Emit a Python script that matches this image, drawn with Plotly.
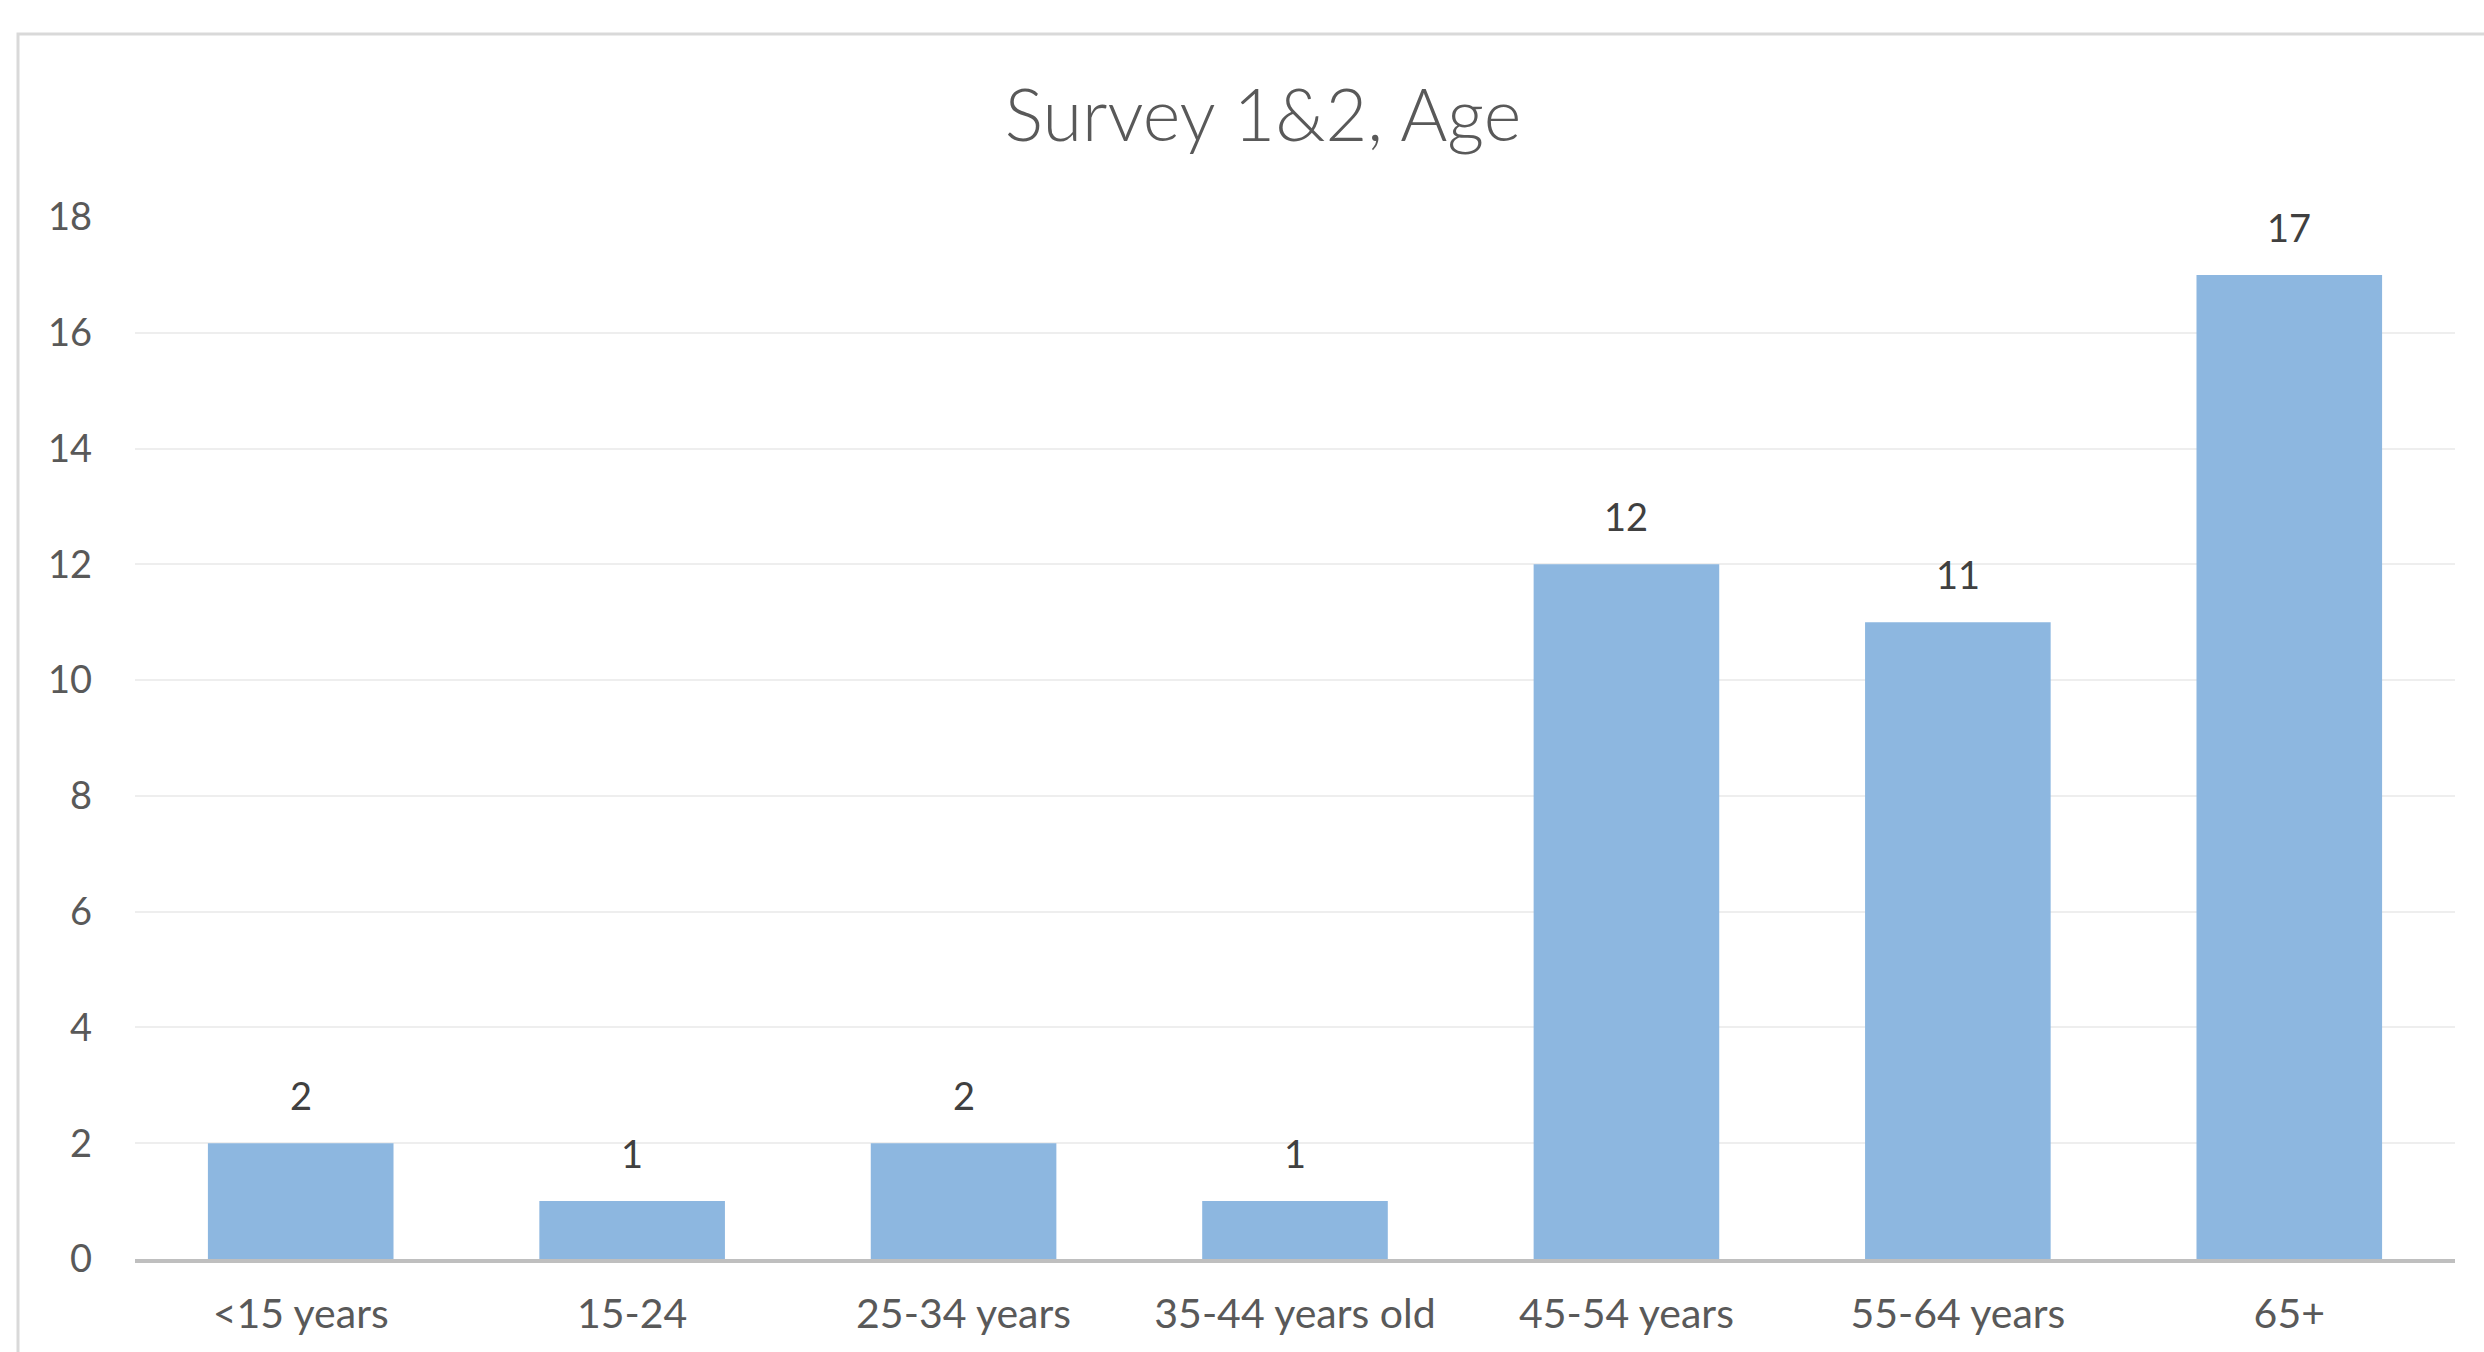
import plotly.graph_objects as go

categories = ["<15 years", "15-24", "25-34 years", "35-44 years old", "45-54 years", "55-64 years", "65+"]
counts = [2, 1, 2, 1, 12, 11, 17]
y_ticks = [0, 2, 4, 6, 8, 10, 12, 14, 16, 18]

W, H = 2484, 1352
L, R, T, B = 135, 29, 217, 93
pw = W - L - R
ph = H - T - B

FONT = "Lato"
BAR = "#8DB7E0"

fig = go.Figure()
fig.add_trace(go.Bar(
    x=categories, y=counts,
    marker=dict(color=BAR, line=dict(width=0)),
    hoverinfo="x+y",
))

for c, v in zip(categories, counts):
    fig.add_annotation(x=c, y=v, text=str(v), showarrow=False,
                       yanchor="middle", yshift=48,
                       font=dict(family=FONT, size=38, color="#404040"))

# outer chart frame (extends past the page on right/bottom)
fig.add_shape(type="rect", xref="paper", yref="paper",
              x0=(18 - L) / pw, x1=(W + 10 - L) / pw,
              y0=(ph + T - (H + 10)) / ph, y1=(ph + T - 34) / ph,
              line=dict(color="#D9D9D9", width=3), fillcolor="rgba(0,0,0,0)", layer="below")

fig.update_layout(
    width=W, height=H,
    margin=dict(l=L, r=R, t=T, b=B),
    paper_bgcolor="white", plot_bgcolor="white",
    bargap=0.44,
    showlegend=False,
    title=dict(text="Survey 1&2, Age", x=1263 / W, xanchor="center",
               y=1 - 116 / H, yanchor="middle",
               font=dict(family=FONT, size=72, weight=300, color="#595959")),
    xaxis=dict(showline=True, linecolor="#BFBFBF", linewidth=4,
               showgrid=False, ticks="", ticklabelstandoff=16,
               tickfont=dict(family=FONT, size=41, color="#595959")),
    yaxis=dict(range=[0, 18], tickvals=y_ticks, showgrid=True,
               gridcolor="#EEEEEE", gridwidth=2, zeroline=False,
               showline=False, ticks="", ticklabelstandoff=42,
               tickfont=dict(family=FONT, size=38, color="#595959")),
)

fig.write_html("out.html")
